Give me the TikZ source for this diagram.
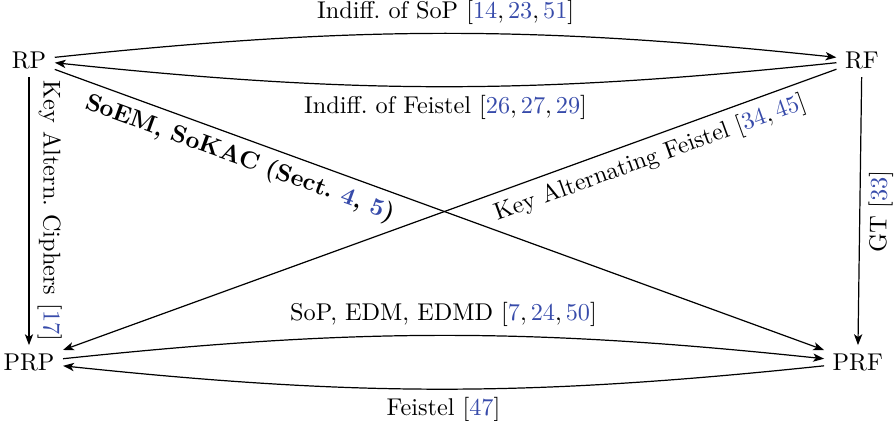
\documentclass[tikz,border=0pt]{standalone}
\usepackage{amsmath,amssymb}
\usepackage{tikz}
\usetikzlibrary{arrows.meta}
\definecolor{citeblue}{RGB}{55,75,170}
\newcommand{\cb}[1]{\textcolor{citeblue}{#1}}
\tikzset{every picture/.style={line width=0.5pt, >={Stealth[length=4.5pt, width=3.4pt, inset=1.2pt]}}}
\tikzset{every node/.style={inner sep = 3.3pt}}

\begin{document}
\begin{tikzpicture}
\useasboundingbox (0,0) rectangle (12.97,6.09);
\node (RP) at (0.42,5.22) {RP};
\node (RF) at (12.49,5.22) {RF};
\node (PRP) at (0.42,0.84) {PRP};
\node (PRF) at (12.43,0.84) {PRF};
\draw[->] (RP) to[bend left=6] node[above] {Indiff.\ of SoP $[\cb{14},\cb{23},\cb{51}]$} (RF);
\draw[->] (RF) to[bend left=6] node[below] {Indiff.\ of Feistel $[\cb{26},\cb{27},\cb{29}]$} (RP);
\draw[->] (RP) -- node[above, sloped] {Key Altern.\ Ciphers $[\cb{17}]$} (PRP);
\draw[->] (RF) -- node[below, sloped] {GT $[\cb{33}]$} (PRF);
\draw[->] (RP) -- node[below, sloped, pos=0.25] {\textbf{SoEM, SoKAC (Sect.\ \cb{4}, \cb{5})}} (PRF);
\draw[->] (RF) -- node[below, sloped, pos=0.25] {Key Alternating Feistel $[\cb{34},\cb{45}]$} (PRP);
\draw[->] (PRP) to[bend left=6] node[above] {SoP, EDM, EDMD $[\cb{7},\cb{24},\cb{50}]$} (PRF);
\draw[->] (PRF) to[bend left=6] node[below] {Feistel $[\cb{47}]$} (PRP);
\end{tikzpicture}
\end{document}
